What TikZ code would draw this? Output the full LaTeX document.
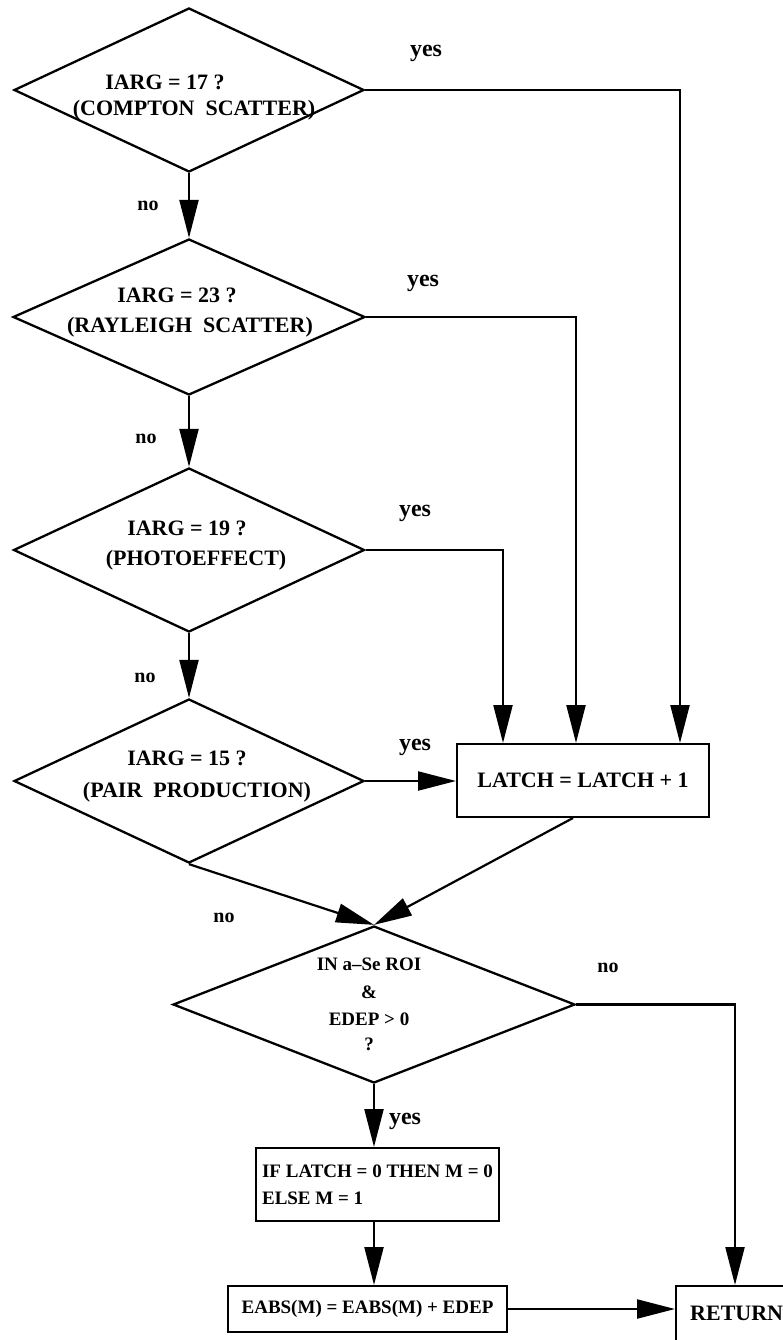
\documentclass[tikz,border=0pt]{standalone}
\usepackage{fontspec}
\setmainfont{Liberation Serif}
\usetikzlibrary{shapes.geometric,arrows.meta}
\begin{document}
\begin{tikzpicture}[x=1pt,y=-1pt,
  dia/.style={draw,shape=diamond,line width=2.3pt,inner sep=0pt},
  box/.style={draw,rectangle,line width=2pt,inner sep=0pt},
  conn/.style={line width=2.2pt,-{Triangle[length=38pt,width=19pt]}},
  dtxt/.style={font=\bfseries\fontsize{22}{22}\selectfont,anchor=base,inner sep=0pt},
  stxt/.style={font=\bfseries\fontsize{19}{19}\selectfont,anchor=base,inner sep=0pt},
  yeslab/.style={font=\bfseries\fontsize{24}{24}\selectfont,anchor=base,inner sep=0pt},
  nolab/.style={font=\bfseries\fontsize{20}{20}\selectfont,anchor=base,inner sep=0pt},
]
\fill[white] (0,0) rectangle (783,1340);
\useasboundingbox (0,0) rectangle (783,1340);

% decision diamonds
\node[dia,minimum width=350pt,minimum height=164pt] (d1) at (189,90) {};
\node[dia,minimum width=352pt,minimum height=156pt] (d2) at (189,317) {};
\node[dia,minimum width=351pt,minimum height=164pt] (d3) at (189,550) {};
\node[dia,minimum width=350pt,minimum height=164pt] (d4) at (189,781) {};
\node[dia,minimum width=402pt,minimum height=157pt] (d5) at (374,1004.5) {};

% diamond texts
\node[dtxt] (t1a) at (165,90) {IARG = 17 ?};
\node[dtxt] (t1b) at (194,116) {(COMPTON\ \ SCATTER)};
\node[dtxt] (t2a) at (177,302) {IARG = 23 ?};
\node[dtxt] (t2b) at (190,332) {(RAYLEIGH\ \ SCATTER)};
\node[dtxt] (t3a) at (187,535) {IARG = 19 ?};
\node[dtxt] (t3b) at (196,565) {(PHOTOEFFECT)};
\node[dtxt] (t4a) at (187,765) {IARG = 15 ?};
\node[dtxt] (t4b) at (197,797) {(PAIR\ \ PRODUCTION)};
\node[stxt] (t5a) at (369,970) {IN a–Se ROI};
\node[stxt] (t5b) at (369,998) {\&};
\node[stxt] (t5c) at (369,1025) {EDEP > 0};
\node[stxt] (t5d) at (369,1050) {?};

% process boxes
\node[box,minimum width=252pt,minimum height=73pt,font=\bfseries\fontsize{22}{22}\selectfont] (latch) at (583,780.5) {LATCH = LATCH + 1};
\node[box,minimum width=243pt,minimum height=73pt,align=left,font=\bfseries\fontsize{19}{27}\selectfont] (ifb) at (377.5,1184.5) {IF LATCH = 0 THEN M = 0\\ELSE M = 1};
\node[box,minimum width=279pt,minimum height=46pt,font=\bfseries\fontsize{19}{19}\selectfont] (eabs) at (367.5,1309) {EABS(M) = EABS(M) + EDEP};
\node[box,anchor=north west,minimum width=200pt,minimum height=120pt] (ret) at (675,1285) {};
\node[dtxt,anchor=base west] (rett) at (690,1320) {RETURN};

% connectors
\draw[conn] (d1.south) -- (d2.north);
\draw[conn] (d2.south) -- (d3.north);
\draw[conn] (d3.south) -- (d4.north);
\draw[conn] (d1.east) -| ([xshift=97pt]latch.north);
\draw[conn] (d2.east) -| ([xshift=-7pt]latch.north);
\draw[conn] (d3.east) -| ([xshift=-80pt]latch.north);
\draw[conn] (d4.east) -- (d4.east -| latch.west);
\draw[conn] (d4.south) -- (d5.north);
\draw[conn] ([xshift=-10pt]latch.south) -- (d5.north);
\draw[conn] (d5.east) -| ([xshift=60pt]ret.north west);
\draw[conn] (d5.south) -- (d5.south |- ifb.north);
\draw[conn] (ifb.south -| d5.south) -- (eabs.north -| d5.south);
\draw[conn] (eabs.east) -- (eabs.east -| ret.west);

% labels
\node[yeslab] (y1) at (426,57) {yes};
\node[yeslab] (y2) at (423,286) {yes};
\node[yeslab] (y3) at (415,516) {yes};
\node[yeslab] (y4) at (415,750) {yes};
\node[yeslab] (y5) at (405,1124) {yes};
\node[nolab] (n1) at (148,211) {no};
\node[nolab] (n2) at (146,443) {no};
\node[nolab] (n3) at (145,682) {no};
\node[nolab] (n4) at (224,922) {no};
\node[nolab] (n5) at (608,972) {no};
\end{tikzpicture}
\end{document}
